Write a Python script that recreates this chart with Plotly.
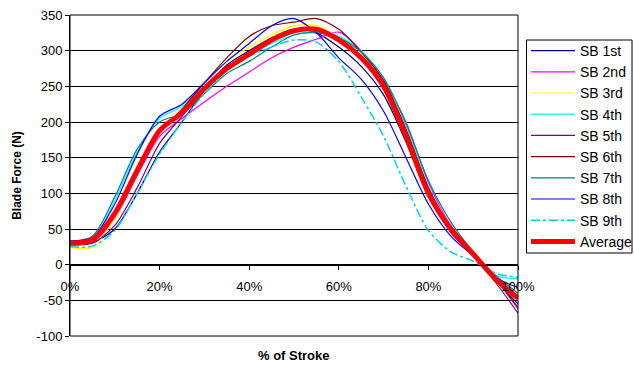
import plotly.graph_objects as go

x_pct = [0, 0.05, 0.10, 0.15, 0.20, 0.25, 0.30, 0.35, 0.40, 0.45, 0.50,
         0.55, 0.60, 0.65, 0.70, 0.75, 0.80, 0.85, 0.90, 0.95, 1.00]

sb1 = [30, 31, 50, 100, 158, 200, 245, 280, 300, 318, 330, 325, 305, 278, 238, 172, 98, 48, 15, -22, -55]
sb2 = [28, 32, 65, 125, 180, 205, 228, 250, 270, 290, 305, 316, 326, 300, 258, 200, 115, 55, 17, -20, -62]
sb3 = [24, 24, 65, 130, 188, 218, 255, 285, 305, 322, 335, 335, 318, 292, 252, 185, 105, 50, 15, -20, -50]
sb4 = [33, 36, 90, 158, 205, 222, 250, 272, 292, 310, 322, 326, 320, 300, 262, 195, 110, 52, 12, -15, -20]
sb5 = [28, 30, 55, 108, 170, 208, 245, 275, 295, 315, 328, 330, 318, 290, 248, 182, 100, 45, 12, -25, -68]
sb6 = [30, 34, 70, 130, 185, 218, 255, 290, 320, 335, 340, 345, 330, 298, 258, 190, 108, 52, 14, -20, -60]
sb7 = [33, 40, 95, 162, 200, 212, 240, 268, 285, 305, 322, 325, 318, 298, 262, 198, 118, 60, 18, -15, -40]
sb8 = [33, 38, 85, 155, 208, 225, 255, 285, 310, 335, 345, 325, 290, 260, 215, 150, 85, 40, 12, -18, -32]
sb9 = [25, 26, 48, 100, 155, 200, 240, 272, 292, 305, 315, 312, 285, 235, 180, 110, 48, 18, 5, -12, -18]
average = [30, 35, 72, 132, 188, 213, 247, 275, 295, 315, 328, 330, 315, 290, 250, 180, 100, 50, 15, -20, -47]

series_names = ["SB 1st", "SB 2nd", "SB 3rd", "SB 4th", "SB 5th", "SB 6th",
                "SB 7th", "SB 8th", "SB 9th", "Average"]
series_values = [sb1, sb2, sb3, sb4, sb5, sb6, sb7, sb8, sb9, average]
colors = ["#000080", "#FF00FF", "#FFFF00", "#00FFFF", "#800080", "#800000",
          "#008080", "#0000FF", "#00CCFF", "#FF0000"]
widths = [1.2, 1.2, 1.2, 1.2, 1.2, 1.2, 1.2, 1.2, 1.5, 5]
dashes = ["solid"] * 8 + ["dashdot", "solid"]

y_ticks = [-100, -50, 0, 50, 100, 150, 200, 250, 300, 350]
y_tick_labels = ["-100", "-50", "0", "50", "100", "150", "200", "250", "300", "350"]
x_ticks = [0, 0.2, 0.4, 0.6, 0.8, 1.0]
x_tick_labels = ["0%", "20%", "40%", "60%", "80%", "100%"]

FONT = "Liberation Sans, Arial, sans-serif"

# plot area in pixels: x 70..518, y 15..336
PW, PH = 448, 321

def px_x(p):
    return (p - 70) / PW

def px_y(p):
    return (336 - p) / PH

fig = go.Figure()
for name, vals, c, w, d in zip(series_names, series_values, colors, widths, dashes):
    fig.add_trace(go.Scatter(
        x=x_pct, y=vals, name=name, mode="lines",
        line=dict(color=c, width=w, dash=d, shape="spline", smoothing=0.8),
    ))

fig.update_layout(
    width=634, height=370,
    margin=dict(l=70, r=116, t=15, b=34, autoexpand=False),
    paper_bgcolor="white", plot_bgcolor="white",
    font=dict(family=FONT, size=12, color="black"),
    showlegend=True,
    legend=dict(
        x=px_x(526), y=px_y(35), xanchor="left", yanchor="top",
        borderwidth=0, bgcolor="rgba(0,0,0,0)",
        font=dict(family=FONT, size=14, color="black"),
        itemwidth=44, tracegroupgap=0,
    ),
    xaxis=dict(
        range=[0, 1], tickvals=x_ticks, ticktext=x_tick_labels,
        anchor="free", position=100 / 450,
        showgrid=False, zeroline=False,
        showline=True, linecolor="black", linewidth=1,
        ticks="outside", ticklen=4, tickcolor="black",
        ticklabelstandoff=6,
        tickfont=dict(size=13),
    ),
    yaxis=dict(
        range=[-100, 350], tickvals=y_ticks, ticktext=y_tick_labels,
        showgrid=True, gridcolor="black", gridwidth=1,
        zeroline=False,
        showline=True, linecolor="black", linewidth=1,
        ticks="outside", ticklen=4, tickcolor="black",
        tickfont=dict(size=13),
        title=dict(text="<b>Blade Force (N)</b>", font=dict(size=12), standoff=12),
    ),
    annotations=[dict(
        text="<b>% of Stroke</b>", xref="paper", yref="paper",
        x=0.5, y=-0.03, yanchor="top", showarrow=False,
        font=dict(size=13),
    )],
    shapes=[
        dict(type="rect", xref="paper", yref="paper", x0=0, y0=0, x1=1, y1=1,
             line=dict(color="black", width=1), layer="above"),
        dict(type="rect", xref="paper", yref="paper",
             x0=px_x(526.5), y0=px_y(253), x1=px_x(632), y1=px_y(40),
             line=dict(color="black", width=1), fillcolor="white", layer="below"),
    ],
)

fig.write_html("out.html")
